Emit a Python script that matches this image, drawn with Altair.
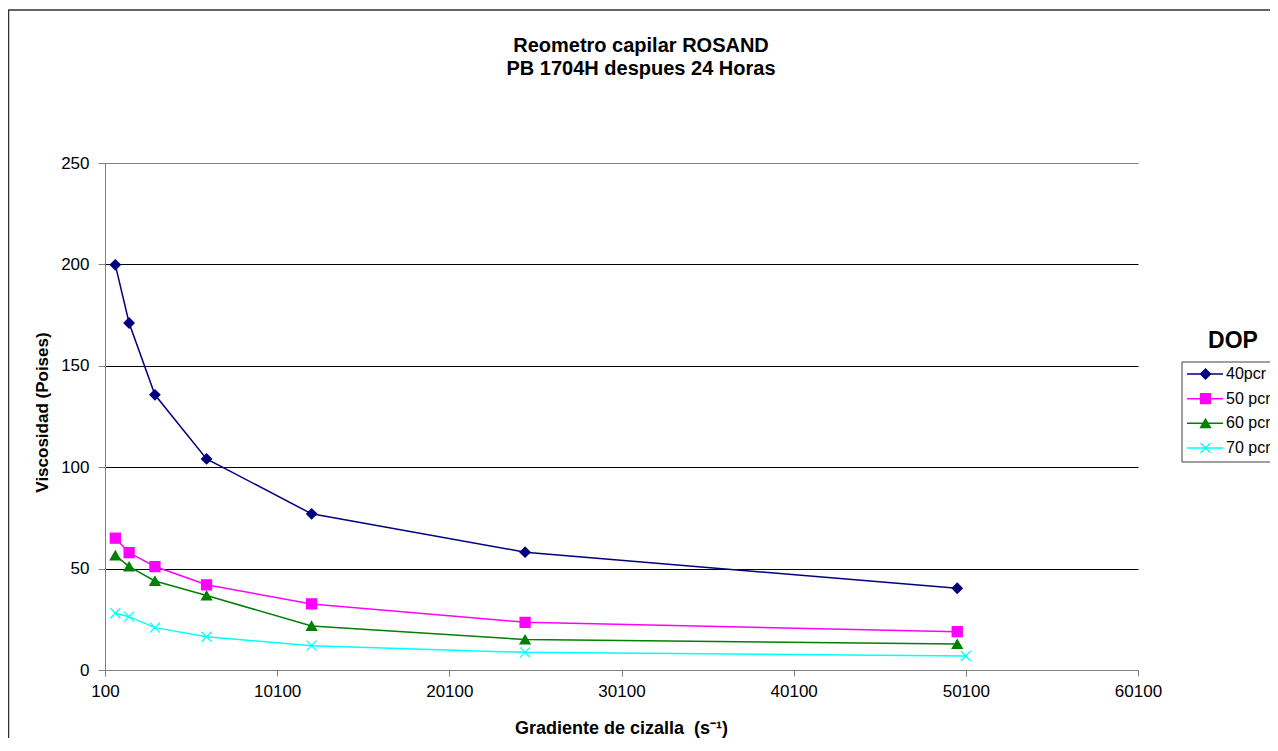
import altair as alt
import pandas as pd

series_names = ["40pcr", "50 pcr", "60 pcr", "70 pcr"]
x_40 = [700, 1500, 3000, 6000, 12100, 24500, 49600]
y_40 = [199.8, 171.1, 135.7, 104.1, 77.0, 58.1, 40.3]
x_50 = [700, 1500, 3000, 6000, 12100, 24500, 49600]
y_50 = [65.0, 57.9, 51.0, 42.0, 32.6, 23.5, 18.9]
x_60 = [700, 1500, 3000, 6000, 12100, 24500, 49600]
y_60 = [56.5, 51.0, 43.9, 36.7, 21.7, 15.0, 12.8]
x_70 = [700, 1500, 3000, 6000, 12100, 24500, 50100]
y_70 = [28.0, 26.3, 20.9, 16.4, 12.0, 8.7, 6.9]

x_ticks = [100, 10100, 20100, 30100, 40100, 50100, 60100]
y_ticks = [0, 50, 100, 150, 200, 250]

title_lines = ["Reometro capilar ROSAND", "PB 1704H despues 24 Horas"]
legend_title = "DOP"

colors = ["#000080", "#FF00FF", "#008000", "#00FFFF"]
shapes = ["diamond", "square", "triangle-up", "M-1,-1L1,1M-1,1L1,-1"]

rows = []
for name, xs, ys in zip(series_names, [x_40, x_50, x_60, x_70], [y_40, y_50, y_60, y_70]):
    for i, (xv, yv) in enumerate(zip(xs, ys)):
        rows.append({"serie": name, "x": xv, "y": yv, "i": i})
df = pd.DataFrame(rows)
leg_df = pd.DataFrame({"serie": series_names})

FONT = "Liberation Sans"

color_scale = alt.Scale(domain=series_names, range=colors)
shape_scale = alt.Scale(domain=series_names, range=shapes)

xenc = alt.X(
    "x:Q",
    scale=alt.Scale(domain=[100, 60100], nice=False, zero=False),
    axis=alt.Axis(
        values=x_ticks, format="d", title="Gradiente de cizalla\u00a0 (s⁻¹)",
        grid=False, domainColor="#808080", tickColor="#808080", tickSize=6,
        labelFontSize=17, labelPadding=7, labelColor="black", labelFont=FONT,
        titleFont=FONT, titleFontSize=18, titleFontWeight="bold", titleColor="black",
        titleBaseline="alphabetic", titleY=63, titleX=516,
        labelFlush=False,
    ),
)
yenc = alt.Y(
    "y:Q",
    scale=alt.Scale(domain=[0, 250], nice=False),
    axis=alt.Axis(
        values=y_ticks, title="Viscosidad (Poises)",
        grid=True,
        gridColor={"condition": {"test": "datum.value >= 250", "value": "#808080"}, "value": "black"},
        gridWidth=1, domainColor="#808080",
        tickColor="#808080", tickSize=7, labelFontSize=17, labelPadding=9,
        labelColor="black", labelFont=FONT, titleFont=FONT, titleFontSize=17,
        titleFontWeight="bold", titleColor="black", titleBaseline="alphabetic",
        titleX=-58, titleY=249, titleAngle=270,
    ),
)

lines = alt.Chart(df).mark_line(strokeWidth=1.5).encode(
    x=xenc,
    y=yenc,
    color=alt.Color("serie:N", scale=color_scale, legend=None),
    order="i:Q",
)

points = alt.Chart(df).mark_point(filled=True, size=100, strokeWidth=1.3, opacity=1).encode(
    x="x:Q",
    y="y:Q",
    fill=alt.Fill("serie:N", scale=color_scale, legend=None),
    stroke=alt.Stroke("serie:N", scale=color_scale, legend=None),
    shape=alt.Shape("serie:N", scale=shape_scale, legend=None),
)

one = pd.DataFrame({"a": [0]})
border_left = alt.Chart(one).mark_rule(stroke="#303030", strokeWidth=1.5).encode(
    x=alt.value(-96.5), y=alt.value(-153), y2=alt.value(700)
)
border_top = alt.Chart(one).mark_rule(stroke="#303030", strokeWidth=1.5).encode(
    x=alt.value(-97), x2=alt.value(1300), y=alt.value(-153)
)
dop = alt.Chart(one).mark_text(
    text=legend_title, font=FONT, fontSize=23, fontWeight="bold", color="black",
    align="center", baseline="alphabetic",
).encode(x=alt.value(1128), y=alt.value(185))

title1 = alt.Chart(one).mark_text(
    text=title_lines[0], font=FONT, fontSize=20, fontWeight="bold", color="black",
    align="center", baseline="alphabetic",
).encode(x=alt.value(536), y=alt.value(-111.5))
title2 = alt.Chart(one).mark_text(
    text=title_lines[1], font=FONT, fontSize=20, fontWeight="bold", color="black",
    align="center", baseline="alphabetic",
).encode(x=alt.value(536), y=alt.value(-88))

main = alt.layer(border_left, border_top, lines, points, dop, title1, title2)

# legend drawn as its own small layer (own y scale for the entry rows)
leg_y = alt.Y("serie:N", scale=alt.Scale(type="point", domain=series_names, range=[211, 285], padding=0), axis=None)
leg_box = alt.Chart(one).mark_rect(fill="white", stroke="#404040", strokeWidth=1).encode(
    x=alt.value(1077), x2=alt.value(1300), y=alt.value(199), y2=alt.value(299)
)
leg_rules = alt.Chart(leg_df).mark_rule(strokeWidth=1.5).encode(
    x=alt.value(1082), x2=alt.value(1118), y=leg_y,
    color=alt.Color("serie:N", scale=color_scale, legend=None),
)
leg_pts = alt.Chart(leg_df).mark_point(filled=True, size=100, strokeWidth=1.3, opacity=1).encode(
    x=alt.value(1100.5), y=leg_y,
    fill=alt.Fill("serie:N", scale=color_scale, legend=None),
    stroke=alt.Stroke("serie:N", scale=color_scale, legend=None),
    shape=alt.Shape("serie:N", scale=shape_scale, legend=None),
)
leg_text = alt.Chart(leg_df).mark_text(
    font=FONT, fontSize=16, color="black", align="left", baseline="middle",
).encode(x=alt.value(1121), y=leg_y, text="serie:N")
legend_layer = alt.layer(leg_box, leg_rules, leg_pts, leg_text)

chart = alt.layer(main, legend_layer).resolve_scale(y="independent").properties(
    width=1033,
    height=507,
    padding={"left": 97, "top": 155, "right": 132, "bottom": 68},
    autosize=alt.AutoSizeParams(type="none"),
).configure(background="white", view=alt.ViewConfig(stroke=None, strokeWidth=0))

chart.save("out.html", embed_options={"renderer": "svg", "actions": False})
